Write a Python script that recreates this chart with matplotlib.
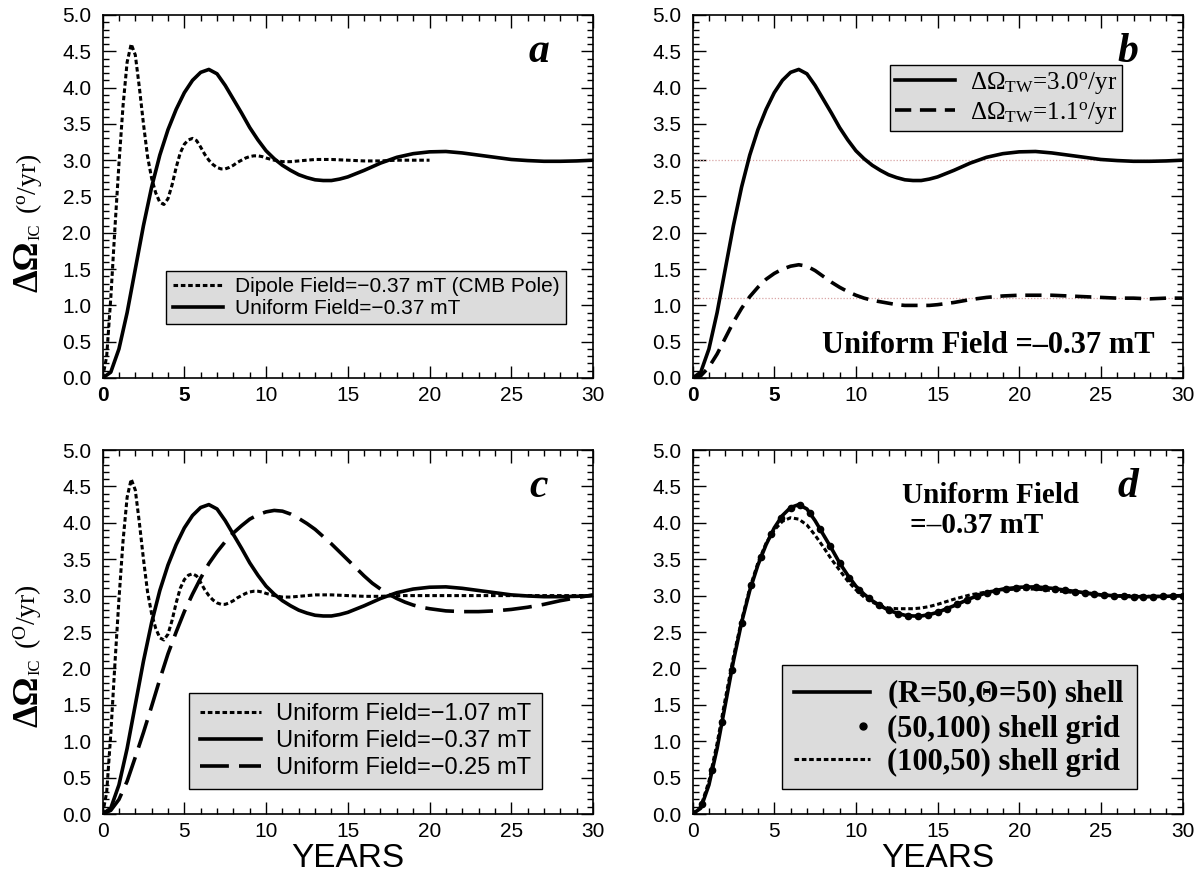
import matplotlib
matplotlib.use("Agg")
import matplotlib.pyplot as plt
from matplotlib.lines import Line2D
from matplotlib.legend_handler import HandlerLine2D
from matplotlib.ticker import MultipleLocator, FormatStrFormatter

plt.rcParams['font.family'] = 'Liberation Sans'
plt.rcParams['mathtext.fontset'] = 'custom'
plt.rcParams['mathtext.rm'] = 'Liberation Serif'
plt.rcParams['mathtext.it'] = 'Liberation Serif:italic'
plt.rcParams['mathtext.bf'] = 'Liberation Serif:bold'
plt.rcParams['axes.unicode_minus'] = False

# ---- data ----
years = [0, 0.5, 1, 1.5, 2, 2.5, 3, 3.5, 4, 4.5, 5, 5.5, 6, 6.5, 7, 7.5, 8, 8.5, 9, 9.5,
         10, 10.5, 11, 11.5, 12, 12.5, 13, 13.5, 14, 14.5, 15,
         16, 17, 18, 19, 20, 21, 22, 23, 24, 25, 26, 27, 28, 29, 30]

# uniform field -0.37 mT (also (R=50,Theta=50) shell and dOmega_TW = 3.0)
uniform_037 = [0, 0.08, 0.4, 0.9, 1.5, 2.1, 2.63, 3.07, 3.42, 3.7,
               3.93, 4.1, 4.21, 4.25, 4.19, 4.03, 3.84, 3.65, 3.45, 3.28,
               3.13, 3.02, 2.93, 2.86, 2.8, 2.76, 2.73, 2.72, 2.72, 2.74,
               2.77,
               2.86, 2.96, 3.04, 3.09, 3.115, 3.12, 3.1, 3.07, 3.04, 3.01, 2.995, 2.985, 2.985, 2.99, 3.0]

# dOmega_TW = 1.1 deg/yr
tw_11 = [0, 0.03, 0.15, 0.33, 0.55, 0.77, 0.96, 1.12, 1.25, 1.36,
         1.44, 1.5, 1.54, 1.56, 1.54, 1.48, 1.4, 1.32, 1.25, 1.19,
         1.14, 1.1, 1.07, 1.05, 1.03, 1.01, 1.0, 1.0, 1.0, 1.0,
         1.01,
         1.04, 1.08, 1.11, 1.13, 1.14, 1.14, 1.14, 1.13, 1.12, 1.11, 1.1, 1.1, 1.09, 1.1, 1.1]

# (100,50) shell grid
grid_100_50 = [0, 0.1, 0.45, 0.97, 1.58, 2.16, 2.66, 3.1, 3.45, 3.72,
               3.9, 4.02, 4.07, 4.05, 3.97, 3.83, 3.67, 3.5, 3.35, 3.2,
               3.08, 2.98, 2.91, 2.86, 2.83, 2.82, 2.82, 2.82, 2.83, 2.85,
               2.88,
               2.95, 3.01, 3.05, 3.08, 3.09, 3.09, 3.07, 3.05, 3.03, 3.01, 3.0, 3.0, 2.99, 2.99, 3.0]

# dipole field -0.37 mT (CMB pole), runs to 20 yr
dipole_years = [0, 0.25, 0.5, 0.75, 1, 1.25, 1.5, 1.75, 2, 2.25, 2.5, 2.75, 3, 3.25, 3.5, 3.75,
                4, 4.25, 4.5, 4.75, 5, 5.25, 5.5, 5.75, 6, 6.25, 6.5, 6.75, 7, 7.25, 7.5, 7.75,
                8, 8.25, 8.5, 8.75, 9, 9.25, 9.5, 9.75, 10,
                10.5, 11, 11.5, 12, 13, 14, 15, 16, 17, 18, 19, 20]
dipole_037 = [0, 0.3, 1.1, 2.05, 2.95, 3.75, 4.35, 4.6, 4.45, 4.0,
              3.5, 3.05, 2.75, 2.55, 2.42, 2.39, 2.47, 2.66, 2.9, 3.1,
              3.22, 3.28, 3.3, 3.27, 3.18, 3.08, 3.0, 2.94, 2.9, 2.88,
              2.88, 2.9, 2.93, 2.97, 3.0, 3.03, 3.05, 3.06, 3.06, 3.05,
              3.03,
              3.0, 2.98, 2.98, 2.99, 3.01, 3.01, 3.0, 2.99, 2.99, 3.0, 3.0, 3.0]

# uniform field -1.07 mT
years_107 = dipole_years + [21, 22, 23, 24, 25, 26, 27, 28, 29, 30]
uniform_107 = [0, 0.3, 1.1, 2.05, 2.95, 3.75, 4.35, 4.6, 4.45, 4.0,
               3.5, 3.05, 2.75, 2.55, 2.42, 2.39, 2.47, 2.66, 2.9, 3.1,
               3.22, 3.28, 3.3, 3.27, 3.18, 3.08, 3.0, 2.94, 2.9, 2.88,
               2.88, 2.9, 2.93, 2.97, 3.0, 3.03, 3.05, 3.06, 3.06, 3.05,
               3.03,
               3.0, 2.98, 2.98, 2.99, 3.01, 3.01, 3.0, 2.99, 2.99, 3.0, 3.0, 3.0,
               3.0, 3.0, 3.0, 3.0, 3.0, 3.0, 3.0, 3.0, 3.0, 3.0]

# uniform field -0.25 mT
years_025 = [0, 0.5, 1, 1.5, 2, 2.5, 3, 3.5, 4, 4.5, 5, 5.5, 6, 6.5, 7, 7.5, 8, 8.5, 9, 9.5,
             10, 10.5, 11, 11.5, 12, 12.5, 13, 13.5, 14, 14.5, 15, 15.5, 16, 16.5, 17, 17.5,
             18, 18.5, 19, 19.5, 20, 21, 22, 23, 24, 25, 26, 27, 28, 29, 30]
uniform_025 = [0, 0.05, 0.2, 0.45, 0.78, 1.12, 1.48, 1.85, 2.2, 2.5,
               2.78, 3.02, 3.24, 3.44, 3.6, 3.74, 3.86, 3.96, 4.05, 4.11,
               4.15, 4.17, 4.16, 4.12, 4.06, 3.99, 3.91, 3.81, 3.71, 3.6,
               3.49, 3.38, 3.27, 3.17, 3.09, 3.02, 2.96, 2.91, 2.87, 2.84,
               2.82, 2.79, 2.78, 2.78, 2.79, 2.81, 2.84, 2.88, 2.93, 2.97, 3.01]

# (50,100) shell grid, plotted as dots
dot_years = [0, 0.6, 1.2, 1.8, 2.4, 3.0, 3.6, 4.2, 4.8, 5.4, 6.0, 6.6, 7.2, 7.8, 8.4, 9.0, 9.6,
             10.2, 10.8, 11.4, 12.0, 12.6, 13.2, 13.8, 14.4, 15.0, 15.6, 16.2, 16.8, 17.4,
             18.0, 18.6, 19.2, 19.8, 20.4, 21.0, 21.6, 22.2, 22.8, 23.4, 24.0, 24.6, 25.2,
             25.8, 26.4, 27.0, 27.6, 28.2, 28.8, 29.4, 30.0]
grid_50_100 = [0, 0.14, 0.6, 1.26, 1.98, 2.63, 3.14, 3.53, 3.84, 4.07, 4.21, 4.24, 4.13,
               3.92, 3.68, 3.45, 3.24, 3.08, 2.97, 2.87, 2.8, 2.75, 2.725, 2.72, 2.735,
               2.77, 2.82, 2.88, 2.94, 2.99, 3.04, 3.07, 3.095, 3.11, 3.12, 3.12, 3.11,
               3.095, 3.075, 3.055, 3.04, 3.02, 3.01, 3.0, 2.99, 2.985, 2.985, 2.985,
               2.99, 2.995, 3.0]

xticks = [0, 5, 10, 15, 20, 25, 30]
tick_names = ['0', '5', '10', '15', '20', '25', '30']

DOT = (0, (1.5, 0.9))
DASH_B = (0, (4.5, 2.4))
DASH_C = (0, (8, 2.8))
SERIF = 'Liberation Serif'
SANS = 'Liberation Sans'
W, H = 1201, 876

fig = plt.figure(figsize=(W / 100, H / 100), dpi=100)


class RightDot(HandlerLine2D):
    # legend marker sits at the right end of the handle, next to the text
    def get_xdata(self, legend, xdescent, ydescent, width, height, fontsize):
        x = -xdescent + width * 0.9
        return [x, x], [x]


def make_axes(x0, y0, x1, y1):
    # pixel box (from top-left) -> figure axes
    return fig.add_axes([x0 / W, 1 - y1 / H, (x1 - x0) / W, (y1 - y0) / H])


def style(ax, bold_low=False):
    ax.set_xlim(0, 30)
    ax.set_ylim(0, 5)
    ax.set_xticks(xticks)
    labs = ax.set_xticklabels(tick_names)
    if bold_low:
        labs[0].set_fontweight('bold')
        labs[1].set_fontweight('bold')
    ax.xaxis.set_minor_locator(MultipleLocator(1))
    ax.yaxis.set_major_locator(MultipleLocator(0.5))
    ax.yaxis.set_minor_locator(MultipleLocator(0.1))
    ax.yaxis.set_major_formatter(FormatStrFormatter('%.1f'))
    ax.tick_params(which='both', direction='in', top=True, right=True, width=1.0, labelsize=15)
    ax.tick_params(which='major', length=9)
    ax.tick_params(which='minor', length=4.5)
    ax.tick_params(axis='x', pad=6)
    ax.tick_params(axis='y', pad=8)
    for s in ax.spines.values():
        s.set_linewidth(1.2)


def ylabel(top_px, sup):
    kw = dict(rotation=90, rotation_mode='anchor', ha='left', va='baseline', family=SERIF)
    fig.text(37 / W, 1 - (top_px + 277) / H, 'ΔΩ', fontsize=26, fontweight='bold', **kw)
    fig.text(39 / W, 1 - (top_px + 225) / H, 'IC', fontsize=12, **kw)
    fig.text(36 / W, 1 - (top_px + 199) / H, '($^{\\mathrm{%s}}$/yr)' % sup, fontsize=20, **kw)


def letter(ax, s):
    ax.text(0.889, 0.87, s, transform=ax.transAxes, ha='center', va='baseline',
            family=SERIF, fontsize=30, fontweight='bold', fontstyle='italic')


def legend(ax, handles, labels, anchor, family, size, weight='normal', **kw):
    leg = ax.legend(handles, labels, loc='upper left', bbox_to_anchor=anchor, borderaxespad=0,
                    frameon=True, fancybox=False, facecolor='#dcdcdc', edgecolor='black',
                    framealpha=1, prop={'family': family, 'size': size, 'weight': weight}, **kw)
    leg.get_frame().set_linewidth(1.0)
    return leg


def years_label(x_px):
    fig.text(x_px / W, 1 - 867 / H, 'YEARS', ha='center', va='baseline', family=SANS, fontsize=24)


# ---- panel a ----
ax_a = make_axes(102.6, 15, 593, 378)
ax_a.plot(dipole_years, dipole_037, color='black', lw=2.2, ls=DOT)
ax_a.plot(years, uniform_037, color='black', lw=2.6)
style(ax_a, bold_low=True)
letter(ax_a, 'a')
legend(ax_a,
       [Line2D([], [], color='black', lw=2.2, ls=DOT), Line2D([], [], color='black', lw=2.6)],
       ['Dipole Field=\u22120.37 mT (CMB Pole)', 'Uniform Field=\u22120.37 mT'],
       (0.130, 0.296), SANS, 15, handlelength=2.4, handletextpad=0.6, borderpad=0.3,
       labelspacing=0.15)
ylabel(15, 'o')

# ---- panel b ----
ax_b = make_axes(692.6, 15, 1182.5, 378)
ax_b.axhline(3.0, color='#d8a4a4', lw=0.9, ls=(0, (1, 1.5)))
ax_b.axhline(1.1, color='#d8a4a4', lw=0.9, ls=(0, (1, 1.5)))
ax_b.plot(years, uniform_037, color='black', lw=2.6)
ax_b.plot(years, tw_11, color='black', lw=2.6, ls=DASH_B)
style(ax_b, bold_low=True)
letter(ax_b, 'b')
legend(ax_b,
       [Line2D([], [], color='black', lw=2.6), Line2D([], [], color='black', lw=2.6, ls=DASH_B)],
       [r'$\Delta\Omega_{\mathrm{TW}}$=3.0$^{\mathrm{o}}$/yr',
        r'$\Delta\Omega_{\mathrm{TW}}$=1.1$^{\mathrm{o}}$/yr'],
       (0.402, 0.862), SERIF, 18, handlelength=2.4, handletextpad=0.6, borderpad=0.2,
       labelspacing=0.15)
ax_b.text(0.264, 0.069, 'Uniform Field =\u20130.37 mT', transform=ax_b.transAxes,
          ha='left', va='baseline', family=SERIF, fontsize=22, fontweight='bold')

# ---- panel c ----
ax_c = make_axes(102.6, 450, 593, 814)
ax_c.plot(years_107, uniform_107, color='black', lw=2.2, ls=DOT)
ax_c.plot(years, uniform_037, color='black', lw=2.6)
ax_c.plot(years_025, uniform_025, color='black', lw=2.6, ls=DASH_C)
style(ax_c)
letter(ax_c, 'c')
legend(ax_c,
       [Line2D([], [], color='black', lw=2.2, ls=DOT), Line2D([], [], color='black', lw=2.6),
        Line2D([], [], color='black', lw=2.6, ls=DASH_C)],
       ['Uniform Field=\u22121.07 mT', 'Uniform Field=\u22120.37 mT', 'Uniform Field=\u22120.25 mT'],
       (0.176, 0.333), SANS, 17, handlelength=2.6, handletextpad=0.65, borderpad=0.45,
       labelspacing=0.2)
ylabel(450, 'O')
years_label(347.8)

# ---- panel d ----
ax_d = make_axes(692.6, 450, 1182.5, 814)
ax_d.plot(years, uniform_037, color='black', lw=2.6)
ax_d.plot(dot_years, grid_50_100, color='black', ls='none', marker='o', ms=4.5)
ax_d.plot(years, grid_100_50, color='black', lw=2.2, ls=DOT)
style(ax_d)
letter(ax_d, 'd')
dot_handle = Line2D([], [], color='black', ls='none', marker='o', ms=5)
legend(ax_d,
       [Line2D([], [], color='black', lw=2.6), dot_handle,
        Line2D([], [], color='black', lw=2.2, ls=DOT)],
       [r'(R=50,$\mathbf{\Theta}$=50) shell', '(50,100) shell grid', '(100,50) shell grid'],
       (0.182, 0.408), SERIF, 22, weight='bold', handlelength=2.5, handletextpad=0.55,
       borderpad=0.4, labelspacing=0.12, numpoints=1,
       handler_map={dot_handle: RightDot(numpoints=1)})
ax_d.text(0.427, 0.854, 'Uniform Field', transform=ax_d.transAxes, ha='left', va='baseline',
          family=SERIF, fontsize=21, fontweight='bold')
ax_d.text(0.444, 0.772, '=\u20130.37 mT', transform=ax_d.transAxes, ha='left', va='baseline',
          family=SERIF, fontsize=21, fontweight='bold')
years_label(937.5)

fig.savefig('out.png', dpi=100)
